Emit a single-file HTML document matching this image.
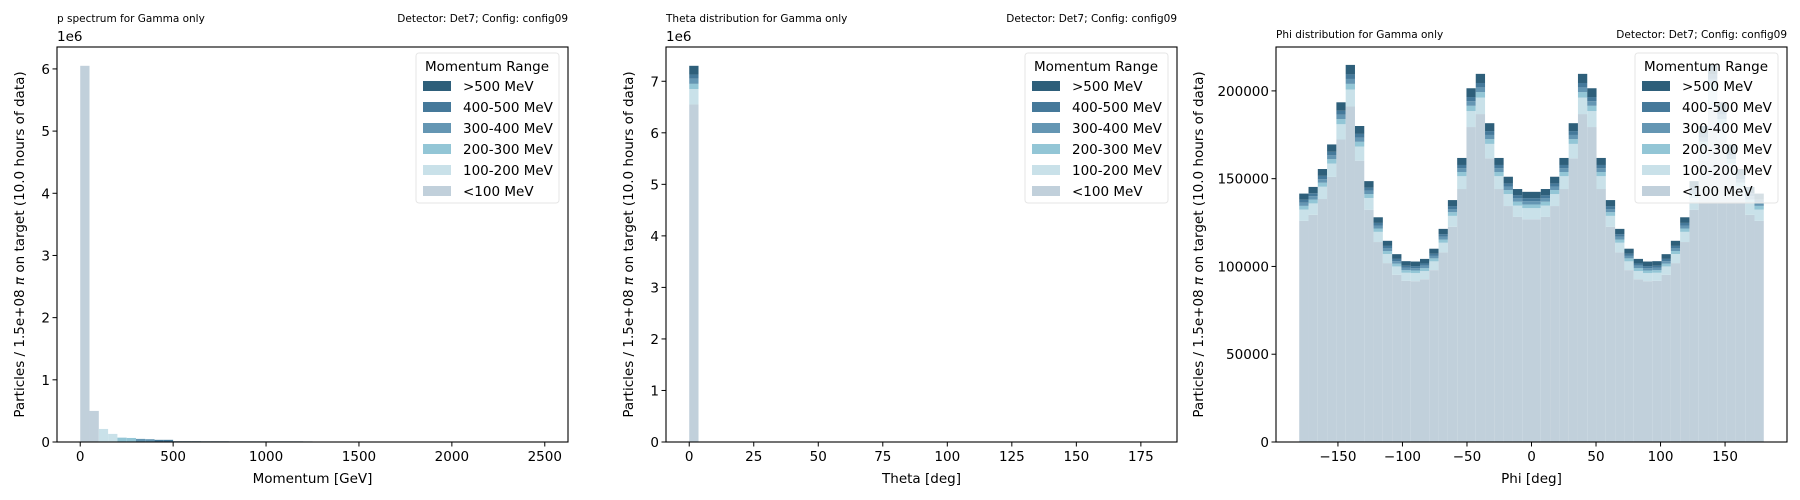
<!DOCTYPE html>
<html><head><meta charset="utf-8"><style>
body{margin:0;background:#fff}
svg{display:block;font-family:"DejaVu Sans","Liberation Sans",sans-serif}
</style></head><body>
<svg id="fig" width="1800" height="500" viewBox="0 0 1800 500"></svg>
<script>
const layerNames = [">500 MeV","400-500 MeV","300-400 MeV","200-300 MeV","100-200 MeV","<100 MeV"];
const layerColors = ["#2e5f7a","#45799a","#6496b3","#93c6d6","#c9e1e9","#c1d0db"];
// stacking order bottom->top: <100, 100-200, 200-300, 300-400, 400-500, >500
// Momentum (1e6 units), bins of 50 GeV from 0
const pLt100   = [6.05,0.5,0,0,0,0,0,0,0,0];
const p100_200 = [0,0,0.21,0.13,0,0,0,0,0,0];
const p200_300 = [0,0,0,0,0.07,0.065,0,0,0,0];
const p300_400 = [0,0,0,0,0,0,0.05,0.045,0,0];
const p400_500 = [0,0,0,0,0,0,0,0,0.035,0.035];
const pGt500   = [0,0,0,0,0,0,0,0,0,0,0.012,0.012,0.012,0.011,0.011,0.011,0.01,0.01,0.01,0.01,0.01,0.01,0.01,0.01,0.009];
// Theta (1e6 units), bins of 3.6 deg, only first bin populated
const tLt100=[6.55], t100_200=[0.3], t200_300=[0.1], t300_400=[0.1], t400_500=[0.08], tGt500=[0.17];
// Phi (units of 1000), 50 bins of 7.2 deg from -180
const fLt100=[126.0,129.4,138.4,151.0,172.3,191.1,160.2,132.3,113.9,101.9,95.2,91.8,91.6,92.7,97.9,108.0,122.6,144.1,179.4,186.8,161.6,144.1,134.4,128.2,126.8,
126.8,128.2,134.4,144.1,161.6,186.8,179.4,144.1,122.6,108.0,97.9,92.7,91.6,91.8,95.2,101.9,113.9,132.3,160.2,191.1,172.3,151.0,138.4,129.4,126.0];
const f100_200=[6.4,6.5,7.0,7.6,8.7,9.7,8.1,6.7,5.8,5.2,4.8,4.6,4.6,4.7,5.0,5.5,6.2,7.3,9.1,9.4,8.2,7.3,6.8,6.5,6.4,
6.4,6.5,6.8,7.3,8.2,9.4,9.1,7.3,6.2,5.5,5.0,4.7,4.6,4.6,4.8,5.2,5.8,6.7,8.1,9.7,8.7,7.6,7.0,6.5,6.4];
const f200_300=[2.1,2.2,2.3,2.5,2.9,3.2,2.7,2.2,1.9,1.7,1.6,1.5,1.5,1.6,1.7,1.8,2.1,2.4,3.0,3.1,2.7,2.4,2.3,2.2,2.1,
2.1,2.2,2.3,2.4,2.7,3.1,3.0,2.4,2.1,1.8,1.7,1.6,1.5,1.5,1.6,1.7,1.9,2.2,2.7,3.2,2.9,2.5,2.3,2.2,2.1];
const f300_400=[1.8,1.9,2.0,2.2,2.5,2.8,2.3,1.9,1.7,1.5,1.4,1.3,1.3,1.4,1.4,1.6,1.8,2.1,2.6,2.7,2.4,2.1,2.0,1.9,1.9,
1.9,1.9,2.0,2.1,2.4,2.7,2.6,2.1,1.8,1.6,1.4,1.4,1.3,1.3,1.4,1.5,1.7,1.9,2.3,2.8,2.5,2.2,2.0,1.9,1.8];
const f400_500=[1.7,1.7,1.9,2.0,2.3,2.6,2.2,1.8,1.5,1.4,1.3,1.2,1.2,1.3,1.3,1.5,1.7,1.9,2.4,2.5,2.2,1.9,1.8,1.7,1.7,
1.7,1.7,1.8,1.9,2.2,2.5,2.4,1.9,1.7,1.5,1.3,1.3,1.2,1.2,1.3,1.4,1.5,1.8,2.2,2.6,2.3,2.0,1.9,1.7,1.7];
const fGt500=[3.5,3.6,3.9,4.2,4.8,5.4,4.5,3.7,3.2,2.9,2.7,2.6,2.6,2.6,2.8,3.0,3.4,4.0,5.0,5.2,4.5,4.0,3.8,3.6,3.6,
3.6,3.6,3.8,4.0,4.5,5.2,5.0,4.0,3.4,3.0,2.8,2.6,2.6,2.6,2.7,2.9,3.2,3.7,4.5,5.4,4.8,4.2,3.9,3.6,3.5];
const pXTicks=[0,500,1000,1500,2000,2500], pYTicks=[0,1,2,3,4,5,6];
const tXTicks=[0,25,50,75,100,125,150,175], tYTicks=[0,1,2,3,4,5,6,7];
const fXTicks=[-150,-100,-50,0,50,100,150], fYTicks=[0,50,100,150,200];

const NS="http://www.w3.org/2000/svg";
const svg=document.getElementById('fig');
function mk(tag,attrs,parent,text){const e=document.createElementNS(NS,tag);for(const k in attrs)e.setAttribute(k,attrs[k]);if(text!==undefined)e.textContent=text;(parent||svg).appendChild(e);return e;}
const TOP=47,BOT=442,W=511;
function panel(o){
  const g=mk('g',{});
  
  
  const L=o.left,R=o.left+W;
  const sx=v=>L+(v-o.xmin)/(o.xmax-o.xmin)*W;
  const sy=v=>BOT-v/o.ymax*(BOT-TOP);
  const layers=o.layers; // bottom->top
  const nb=Math.max(...layers.map(a=>a.length));
  for(let i=0;i<nb;i++){
    let base=0;
    for(let l=0;l<layers.length;l++){
      const v=layers[l][i]||0; if(v<=0)continue;
      const x0=sx(o.x0+i*o.bw),x1=sx(o.x0+(i+1)*o.bw);
      const r=mk('rect',{x:x0,y:sy(base+v),width:Math.max(x1-x0,0.5),height:sy(base)-sy(base+v),fill:layerColors[5-l]},g);
      
      
      base+=v;
    }
  }
  const fr=mk('rect',{x:L,y:TOP,width:W,height:BOT-TOP,fill:'none',stroke:'#000','stroke-width':1.1},g);
  
  o.xt.forEach(t=>{const x=sx(t);mk('line',{x1:x,x2:x,y1:BOT,y2:BOT+4.5,stroke:'#000'},g);
    const tx=mk('text',{x:x,y:BOT+19,'font-size':13.5,'text-anchor':'middle'},g,String(t).replace('-','\u2212'));
    });
  o.yt.forEach(t=>{const y=sy(t);mk('line',{x1:L-4.5,x2:L,y1:y,y2:y,stroke:'#000'},g);
    const tx=mk('text',{x:L-7,y:y+5,'font-size':13.5,'text-anchor':'end'},g,o.ylab(t));
    });
  if(o.offset){const t=mk('text',{x:L,y:TOP-6,'font-size':13.5},g,o.offset);}
  const xl=mk('text',{x:L+W/2,y:483,'font-size':13.5,'text-anchor':'middle'},g,o.xlabel);
  
  const yx=o.ylx;
  const yl=mk('text',{x:yx,y:(TOP+BOT)/2,'font-size':13.5,'text-anchor':'middle',transform:`rotate(-90 ${yx} ${(TOP+BOT)/2})`},g);
  
  yl.appendChild(document.createTextNode('Particles / 1.5e+08 '));
  const pi=mk('tspan',{'font-style':'italic'},yl,'\u03c0');
  yl.appendChild(document.createTextNode(' on target (10.0 hours of data)'));
  const t1=mk('text',{x:L,y:o.titleY,'font-size':10.5},g,o.title);
  
  const t2=mk('text',{x:R,y:o.titleY,'font-size':10.5,'text-anchor':'end'},g,'Detector: Det7; Config: config09');
  
  // legend
  const lg=mk('g',{},g);
  
  const lx=R-152,ly=TOP+6;
  mk('rect',{x:lx,y:ly,width:143,height:150,fill:'#fff','fill-opacity':0.8,stroke:'#e6e6e6',rx:3},lg);
  mk('text',{x:lx+71,y:ly+18,'font-size':13.5,'text-anchor':'middle'},lg,'Momentum Range');
  layerNames.forEach((n,i)=>{const y=ly+28+i*21;
    const e=mk('g',{},lg);
    mk('rect',{x:lx+7,y:y,width:28,height:10,fill:layerColors[i]},e);
    mk('text',{x:lx+47,y:y+10,'font-size':13.5},e,n);});
}
panel({name:'momentum-panel',key:'p',left:57,xmin:-125,xmax:2625,ymax:6.3525,x0:0,bw:50,
  layers:[pLt100,p100_200,p200_300,p300_400,p400_500,pGt500],xt:pXTicks,yt:pYTicks,ylab:t=>String(t),offset:'1e6',
  xlabel:'Momentum [GeV]',title:'p spectrum for Gamma only',titleY:22,ylx:24});
panel({name:'theta-panel',key:'t',left:666,xmin:-9,xmax:189,ymax:7.665,x0:0,bw:3.6,
  layers:[tLt100,t100_200,t200_300,t300_400,t400_500,tGt500],xt:tXTicks,yt:tYTicks,ylab:t=>String(t),offset:'1e6',
  xlabel:'Theta [deg]',title:'Theta distribution for Gamma only',titleY:22,ylx:633});
panel({name:'phi-panel',key:'f',left:1276,xmin:-198,xmax:198,ymax:225,x0:-180,bw:7.2,
  layers:[fLt100,f100_200,f200_300,f300_400,f400_500,fGt500],xt:fXTicks,yt:fYTicks,ylab:t=>String(t*1000),offset:null,
  xlabel:'Phi [deg]',title:'Phi distribution for Gamma only',titleY:38,ylx:1203});
</script>
</body></html>
